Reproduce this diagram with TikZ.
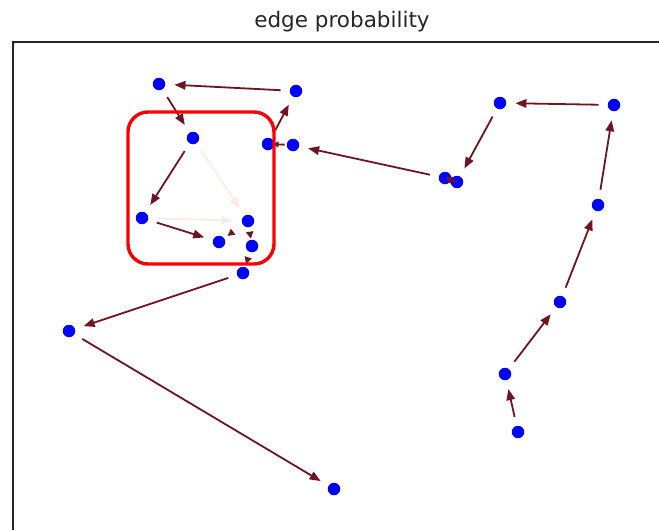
\documentclass[tikz,border=0pt]{standalone}
\usepackage{fontspec}
\setmainfont{DejaVu Sans}
\usetikzlibrary{arrows.meta}
\definecolor{cblue}{HTML}{0000FF}
\definecolor{cdark}{HTML}{701422}
\definecolor{cpale}{HTML}{FFEBE2}
\definecolor{cred}{HTML}{FF0000}
\tikzset{
  vert/.style={circle, fill=cblue, inner sep=0pt, minimum size=12.5pt},
  prob/.style={-{Triangle[length=11pt,width=8.5pt]}, line width=1.8pt, draw=cdark, shorten >=9pt, shorten <=9pt},
  faint/.style={prob, draw=cpale},
  stub/.style={prob, -{Triangle[length=7pt,width=7pt]}, shorten >=2pt, shorten <=1pt},
  hilite/.style={draw=cred, line width=3.4pt, rounded corners=20pt},
  frame/.style={draw=black!85, line width=1.3pt},
}

\begin{document}
\begin{tikzpicture}[x=1pt, y=-1pt, font=\fontsize{21.5}{26}\selectfont]
      \useasboundingbox (0,0) rectangle (659,530);
      \clip (0,0) rectangle (659,530);
      \node[text=black!85] (title) at (342,22) {edge probability};
      \draw[frame] (13,545) -- (13,42) -- (675,42);
      \node[vert] (a) at (159,84) {};
      \node[vert] (b) at (296,91) {};
      \node[vert] (c) at (193,138) {};
      \node[vert] (d) at (268,144) {};
      \node[vert] (e) at (293,145) {};
      \node[vert] (f) at (142,218) {};
      \node[vert] (g) at (248,221) {};
      \node[vert] (h) at (219,242) {};
      \node[vert] (i) at (252,246) {};
      \node[vert] (j) at (243,273) {};
      \node[vert] (k) at (69,331) {};
      \node[vert] (l) at (334,489) {};
      \node[vert] (m) at (500,103) {};
      \node[vert] (n) at (614,105) {};
      \node[vert] (o) at (445,178) {};
      \node[vert] (p) at (457,182) {};
      \node[vert] (q) at (598,205) {};
      \node[vert] (r) at (560,302) {};
      \node[vert] (s) at (505,374) {};
      \node[vert] (t) at (518,432) {};
      \draw[faint] (c) -- (g);
      \draw[faint] (f) -- (g);
      \draw[prob] (t) -- (s);
      \draw[prob] (s) -- (r);
      \draw[prob] (r) -- (q);
      \draw[prob] (q) -- (n);
      \draw[prob] (n) -- (m);
      \draw[prob] (m) -- (p);
      \draw[stub, shorten >=0pt, shorten <=0pt] (p.center) -- (o.center);
      \draw[prob] (o) -- (e);
      \draw[stub, shorten >=-1pt, shorten <=2pt, -{Triangle[length=5pt,width=6pt]}] (e) -- (d);
      \draw[prob] (d) -- (b);
      \draw[prob] (b) -- (a);
      \draw[prob] (a) -- (c);
      \draw[prob] (c) -- (f);
      \draw[prob] (f) -- (h);
      \draw[stub, shorten >=4pt, shorten <=12pt] (g) -- (h);
      \draw[stub, shorten >=1pt, shorten <=5pt] (g) -- (i);
      \draw[stub, shorten >=3pt, shorten <=6pt] (i) -- (j);
      \draw[prob] (j) -- (k);
      \draw[prob] (k) -- (l);
      \draw[hilite] (128,112) rectangle (274,264);
    \end{tikzpicture}
\end{document}
